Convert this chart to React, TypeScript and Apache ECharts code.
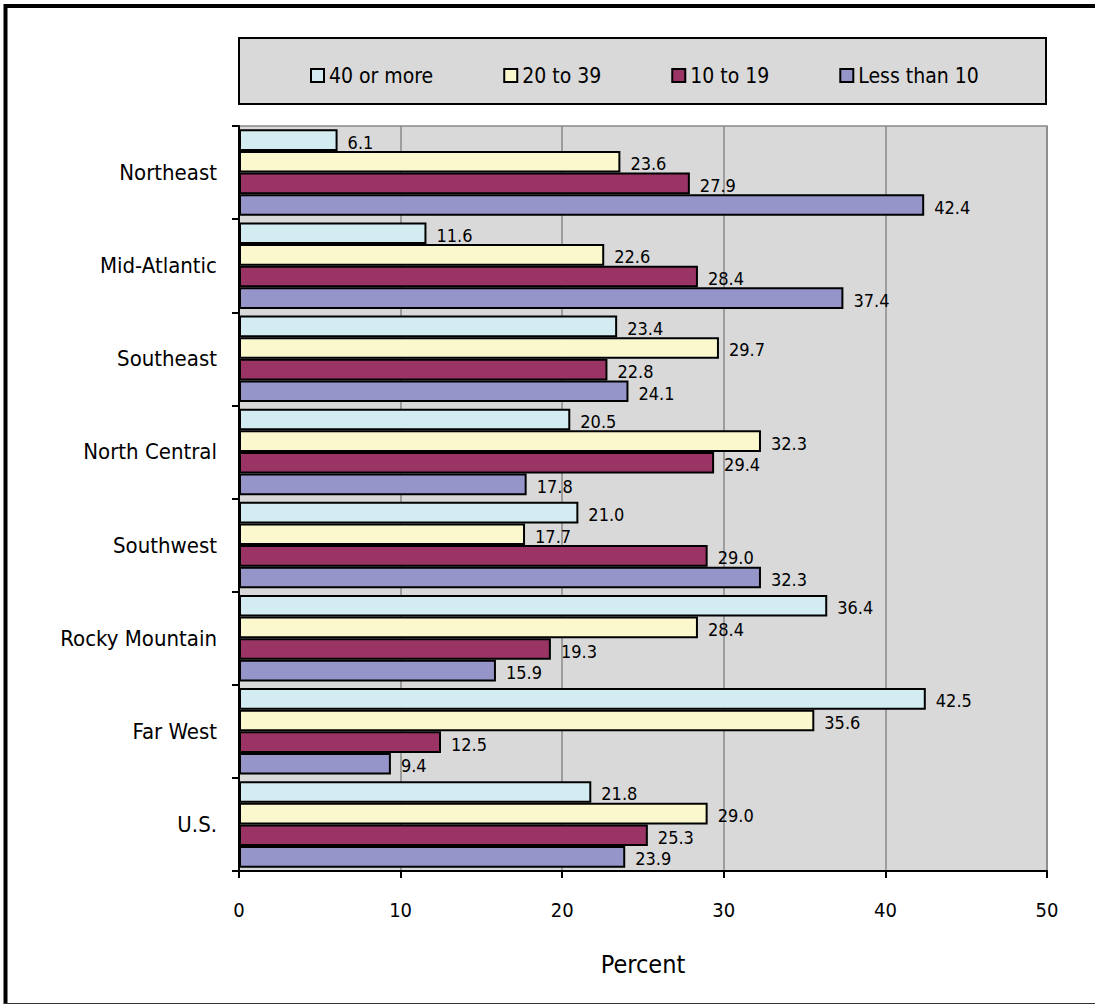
import React, { useEffect, useRef } from "react";
import * as echarts from "echarts";

const categories = ["Northeast", "Mid-Atlantic", "Southeast", "North Central", "Southwest", "Rocky Mountain", "Far West", "U.S."];
const seriesNames = ["40 or more", "20 to 39", "10 to 19", "Less than 10"];
const fortyOrMore = [6.1, 11.6, 23.4, 20.5, 21.0, 36.4, 42.5, 21.8];
const twentyTo39 = [23.6, 22.6, 29.7, 32.3, 17.7, 28.4, 35.6, 29.0];
const tenTo19 = [27.9, 28.4, 22.8, 29.4, 29.0, 19.3, 12.5, 25.3];
const lessThan10 = [42.4, 37.4, 24.1, 17.8, 32.3, 15.9, 9.4, 23.9];
const colors = ["#D3ECF2", "#FBF8CE", "#993464", "#9595C9"];
const xTicks = [0, 10, 20, 30, 40, 50];

const FONT = "'DejaVu Sans Condensed', 'Liberation Sans Narrow', sans-serif";

export default function App() {
  const ref = useRef<HTMLDivElement>(null);
  useEffect(() => {
    if (!ref.current) return;
    const chart = echarts.init(ref.current, null, { renderer: "svg" });
    const values = [fortyOrMore, twentyTo39, tenTo19, lessThan10];
    chart.setOption({
      animation: false,
      backgroundColor: "#ffffff",
      textStyle: { fontFamily: FONT },
      graphic: [
        { type: "line", shape: { x1: 4, y1: 6, x2: 1095, y2: 6 }, style: { stroke: "#000", lineWidth: 4 }, z: 100 },
        { type: "line", shape: { x1: 5.5, y1: 4, x2: 5.5, y2: 1004 }, style: { stroke: "#000", lineWidth: 4 }, z: 100 },
        { type: "line", shape: { x1: 4, y1: 1003.5, x2: 1095, y2: 1003.5 }, style: { stroke: "#333", lineWidth: 1 }, z: 100 },
        { type: "rect", shape: { x: 239, y: 38, width: 807, height: 66 }, style: { fill: "#D9D9D9", stroke: "#000", lineWidth: 2 }, z: 0 },
      ],
      legend: {
        data: seriesNames,
        left: 305,
        top: 60,
        itemGap: 70,
        itemWidth: 13,
        itemHeight: 13,
        icon: "rect",
        textStyle: { fontFamily: FONT, fontSize: 21, color: "#000" },
      },
      grid: { left: 239, right: 48, top: 126, bottom: 134, show: true, backgroundColor: "#D9D9D9", borderColor: "#888", borderWidth: 1.5 },
      xAxis: {
        type: "value",
        min: xTicks[0],
        max: xTicks[xTicks.length - 1],
        interval: 10,
        axisLine: { show: true, lineStyle: { color: "#000", width: 2 } },
        axisTick: { show: true, length: 7, lineStyle: { color: "#000", width: 2 } },
        axisLabel: { fontFamily: FONT, fontSize: 20, color: "#000", margin: 29 },
        splitLine: { show: true, lineStyle: { color: "#888", width: 1.5 } },
        name: "Percent",
        nameLocation: "middle",
        nameGap: 81,
        nameTextStyle: { fontFamily: FONT, fontSize: 25, color: "#000" },
      },
      yAxis: {
        type: "category",
        inverse: true,
        data: categories,
        axisLine: { show: true, lineStyle: { color: "#000", width: 2 } },
        axisTick: { show: true, length: 7, lineStyle: { color: "#000", width: 2 } },
        axisLabel: { fontFamily: FONT, fontSize: 22, color: "#000", margin: 22 },
        splitLine: { show: false },
      },
      series: seriesNames.map((name, i) => ({
        name,
        type: "bar",
        data: values[i],
        barGap: "0%",
        barCategoryGap: "7%",
        itemStyle: { color: colors[i], borderColor: "#000", borderWidth: 2 },
        label: {
          show: true,
          position: "right",
          distance: 10,
          offset: [0, 2],
          formatter: (p: any) => Number(p.value).toFixed(1),
          fontFamily: FONT,
          fontSize: 18,
          color: "#000",
        },
      })),
    });
    return () => chart.dispose();
  }, []);
  return <div ref={ref} style={{ position: "absolute", left: 0, top: 0, width: 1095, height: 1005 }} />;
}
